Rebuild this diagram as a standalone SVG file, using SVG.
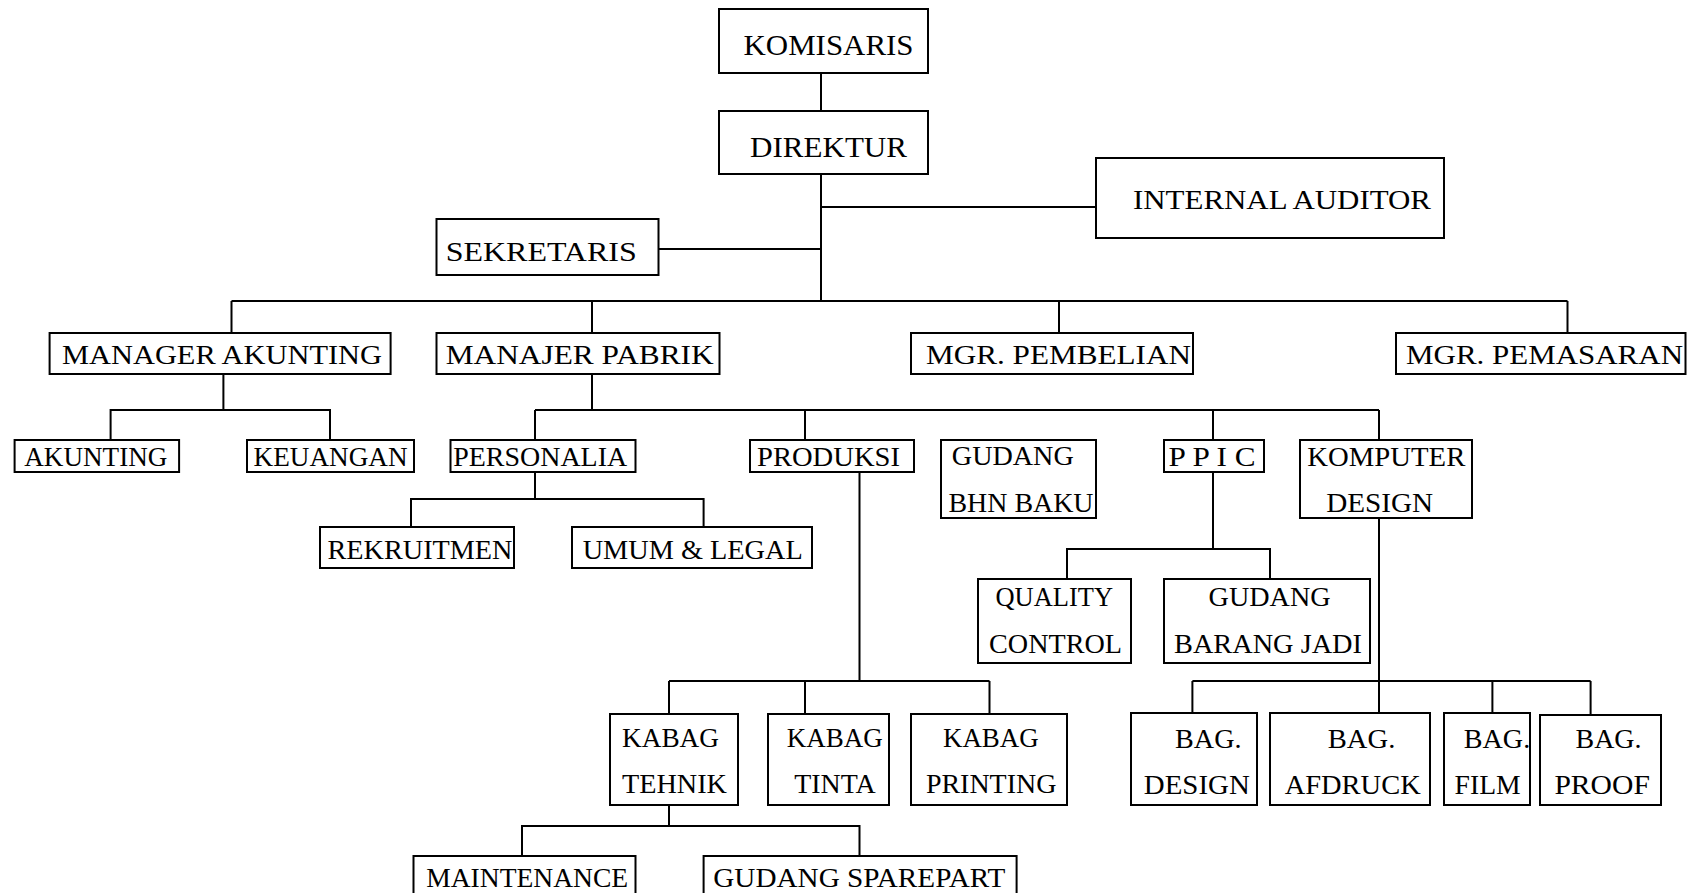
<svg xmlns="http://www.w3.org/2000/svg" width="1692" height="893" viewBox="0 0 1692 893">
<style>
rect{fill:#fff;stroke:#000;stroke-width:2}
text{font-family:"Liberation Serif","Times New Roman",serif;font-size:27px;fill:#000}
.big{font-size:30px}
.mid{font-size:28px}
#connectors path{fill:none;stroke:#000;stroke-width:2}
</style>
<rect x="0" y="0" width="1692" height="893" style="stroke:none"/>
<g id="connectors">
<path d="M821,73V111"/>
<path d="M821,174V301"/>
<path d="M821,207H1096"/>
<path d="M659,249H821"/>
<path d="M231.5,301H1567.5M231.5,301V333M592,301V333M1059,301V333M1567.5,301V333"/>
<path d="M223.4,374V410M110.6,440V410H330V440"/>
<path d="M592,374V410M535,410H1379M535,410V440M805,410V440M1213,410V440M1379,410V440"/>
<path d="M535,472V499M411,527V499H703.6V527"/>
<path d="M859.5,472V681M669,681H989.5M669,681V714M805,681V714M989.5,681V714"/>
<path d="M669,805V826M522,856V826H859.5V856"/>
<path d="M1213,472V549M1067,579V549H1270V579"/>
<path d="M1379,518V715M1192.4,681H1590.6M1192.4,681V713M1492.4,681V713M1590.6,681V715"/>
</g>
<g id="komisaris"><rect x="719" y="9" width="209" height="64"/><text class="big" x="743.5" y="55" textLength="170" lengthAdjust="spacingAndGlyphs">KOMISARIS</text></g>
<g id="direktur"><rect x="719" y="111" width="209" height="63"/><text class="big" x="750" y="157" textLength="157" lengthAdjust="spacingAndGlyphs">DIREKTUR</text></g>
<g id="internal-auditor"><rect x="1096" y="158" width="348" height="80"/><text class="mid" x="1133" y="209" textLength="298" lengthAdjust="spacingAndGlyphs">INTERNAL AUDITOR</text></g>
<g id="sekretaris"><rect x="436.5" y="219" width="222" height="56"/><text class="mid" x="445.7" y="261" textLength="191" lengthAdjust="spacingAndGlyphs">SEKRETARIS</text></g>
<g id="manager-akunting"><rect x="49.6" y="333" width="341" height="41"/><text x="62" y="364" textLength="320" lengthAdjust="spacingAndGlyphs">MANAGER AKUNTING</text></g>
<g id="manajer-pabrik"><rect x="436.5" y="333" width="283" height="41"/><text x="445.7" y="364" textLength="268" lengthAdjust="spacingAndGlyphs">MANAJER PABRIK</text></g>
<g id="mgr-pembelian"><rect x="911" y="333" width="282" height="41"/><text x="926" y="364" textLength="265" lengthAdjust="spacingAndGlyphs">MGR. PEMBELIAN</text></g>
<g id="mgr-pemasaran"><rect x="1396" y="333" width="289.5" height="41"/><text x="1406" y="364" textLength="277" lengthAdjust="spacingAndGlyphs">MGR. PEMASARAN</text></g>
<g id="akunting"><rect x="14.6" y="440" width="164.5" height="32"/><text x="24.3" y="465.7" textLength="143" lengthAdjust="spacingAndGlyphs">AKUNTING</text></g>
<g id="keuangan"><rect x="247" y="440" width="167" height="32"/><text x="253.6" y="465.7" textLength="154" lengthAdjust="spacingAndGlyphs">KEUANGAN</text></g>
<g id="personalia"><rect x="450.5" y="440" width="185" height="32"/><text x="453.2" y="465.7" textLength="174" lengthAdjust="spacingAndGlyphs">PERSONALIA</text></g>
<g id="produksi"><rect x="750" y="440" width="164" height="32"/><text x="757" y="465.7" textLength="143" lengthAdjust="spacingAndGlyphs">PRODUKSI</text></g>
<g id="gudang-bhn-baku"><rect x="941" y="440" width="155" height="78"/><text x="951.8" y="464.7" textLength="122" lengthAdjust="spacingAndGlyphs">GUDANG</text><text x="948.5" y="512.3" textLength="145" lengthAdjust="spacingAndGlyphs">BHN BAKU</text></g>
<g id="ppic"><rect x="1164" y="440" width="100" height="32"/><text x="1168.6" y="465.7" textLength="87" lengthAdjust="spacingAndGlyphs">P P I C</text></g>
<g id="komputer-design"><rect x="1300" y="440" width="172" height="78"/><text x="1307.3" y="465.7" textLength="158" lengthAdjust="spacingAndGlyphs">KOMPUTER</text><text x="1326.2" y="512.3" textLength="107" lengthAdjust="spacingAndGlyphs">DESIGN</text></g>
<g id="rekruitmen"><rect x="320" y="527" width="194" height="41"/><text x="327.5" y="559" textLength="185" lengthAdjust="spacingAndGlyphs">REKRUITMEN</text></g>
<g id="umum-legal"><rect x="572" y="527" width="240" height="41"/><text x="582.7" y="559" textLength="220" lengthAdjust="spacingAndGlyphs">UMUM &amp; LEGAL</text></g>
<g id="quality-control"><rect x="978" y="579" width="153" height="84"/><text x="995.5" y="606.3" textLength="117.5" lengthAdjust="spacingAndGlyphs">QUALITY</text><text x="989" y="653" textLength="133" lengthAdjust="spacingAndGlyphs">CONTROL</text></g>
<g id="gudang-barang-jadi"><rect x="1164" y="579" width="206" height="84"/><text x="1208.6" y="606.3" textLength="122" lengthAdjust="spacingAndGlyphs">GUDANG</text><text x="1174" y="653" textLength="188" lengthAdjust="spacingAndGlyphs">BARANG JADI</text></g>
<g id="kabag-tehnik"><rect x="610" y="714" width="128" height="91"/><text x="622" y="747" textLength="97" lengthAdjust="spacingAndGlyphs">KABAG</text><text x="622" y="793" textLength="105" lengthAdjust="spacingAndGlyphs">TEHNIK</text></g>
<g id="kabag-tinta"><rect x="768" y="714" width="121" height="91"/><text x="786.7" y="747" textLength="96" lengthAdjust="spacingAndGlyphs">KABAG</text><text x="794.2" y="793" textLength="81.5" lengthAdjust="spacingAndGlyphs">TINTA</text></g>
<g id="kabag-printing"><rect x="911" y="714" width="156" height="91"/><text x="943" y="747" textLength="95.6" lengthAdjust="spacingAndGlyphs">KABAG</text><text x="925.9" y="793" textLength="130.5" lengthAdjust="spacingAndGlyphs">PRINTING</text></g>
<g id="bag-design"><rect x="1131" y="713" width="126" height="92"/><text x="1175.1" y="748" textLength="66.4" lengthAdjust="spacingAndGlyphs">BAG.</text><text x="1143.8" y="793.5" textLength="106" lengthAdjust="spacingAndGlyphs">DESIGN</text></g>
<g id="bag-afdruck"><rect x="1270" y="713" width="160" height="92"/><text x="1327.8" y="748" textLength="67.5" lengthAdjust="spacingAndGlyphs">BAG.</text><text x="1284.7" y="793.5" textLength="136" lengthAdjust="spacingAndGlyphs">AFDRUCK</text></g>
<g id="bag-film"><rect x="1444" y="713" width="86" height="92"/><text x="1463.8" y="748" textLength="66.4" lengthAdjust="spacingAndGlyphs">BAG.</text><text x="1454.6" y="793.5" textLength="66" lengthAdjust="spacingAndGlyphs">FILM</text></g>
<g id="bag-proof"><rect x="1540" y="715" width="121" height="90"/><text x="1575.5" y="748" textLength="66" lengthAdjust="spacingAndGlyphs">BAG.</text><text x="1554.4" y="793.5" textLength="95.5" lengthAdjust="spacingAndGlyphs">PROOF</text></g>
<g id="maintenance"><rect x="413.5" y="856" width="222" height="50"/><text x="426.2" y="887" textLength="202" lengthAdjust="spacingAndGlyphs">MAINTENANCE</text></g>
<g id="gudang-sparepart"><rect x="703.6" y="856" width="313" height="50"/><text x="713.3" y="887" textLength="292" lengthAdjust="spacingAndGlyphs">GUDANG SPAREPART</text></g>
</svg>
